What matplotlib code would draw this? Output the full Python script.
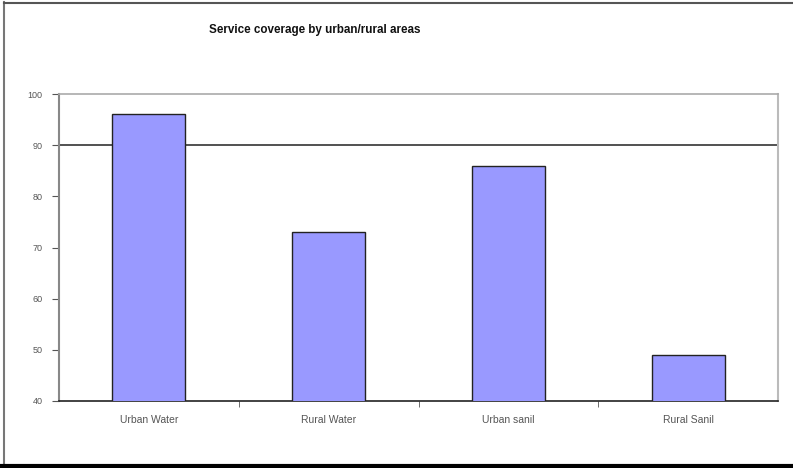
import matplotlib
matplotlib.use("Agg")
import matplotlib.pyplot as plt
from matplotlib.lines import Line2D

categories = ["Urban Water", "Rural Water", "Urban sanil", "Rural Sanil"]
coverage = [96, 73, 86, 49]
yticks = [40, 50, 60, 70, 80, 90, 100]
title = "Service coverage by urban/rural areas"

plt.rcParams['font.family'] = ['Liberation Sans', 'DejaVu Sans']

W, H = 793, 468
fig = plt.figure(figsize=(W / 100, H / 100), dpi=100)
ax = fig.add_axes([59 / W, 1 - 401 / H, (778 - 59) / W, (401 - 94) / H])

x = list(range(len(categories)))
ax.bar(x, coverage, width=0.405, color="#9999FF", edgecolor="#222222", linewidth=1.0, zorder=3)
ax.axhline(90, color="#333333", linewidth=1.2, zorder=2)

ax.set_xlim(-0.5, len(categories) - 0.5)
ax.set_ylim(40, 100)
ax.set_yticks(yticks)
ax.set_yticklabels([str(v) for v in yticks], fontsize=6.5, color="#555555")
ax.set_xticks(x)
ax.set_xticklabels(categories, fontsize=7.5, color="#555555")
ax.set_xticks([i + 0.5 for i in x[:-1]], minor=True)
ax.tick_params(axis='x', which='major', length=0, pad=10)
ax.tick_params(axis='x', which='minor', length=4, color="#555555", direction='out')
ax.tick_params(axis='y', length=5, color="#555555", direction='out', pad=7)

ax.spines['left'].set_color("#888888")
ax.spines['left'].set_linewidth(1.5)
ax.spines['bottom'].set_color("#222222")
ax.spines['bottom'].set_linewidth(1.2)
ax.spines['top'].set_color("#aaaaaa")
ax.spines['top'].set_linewidth(1.2)
ax.spines['right'].set_color("#bbbbbb")
ax.spines['right'].set_linewidth(1.5)

fig.text(315 / W, 1 - 30 / H, title, ha='center', va='center', fontsize=8.4, fontweight='bold', color="#111111")

# outer frame
fig.add_artist(Line2D([4 / W, 4 / W], [0, 1 - 2 / H], transform=fig.transFigure, color="#777777", linewidth=1.5))
fig.add_artist(Line2D([4 / W, 1], [1 - 2.5 / H, 1 - 2.5 / H], transform=fig.transFigure, color="#555555", linewidth=1.5))
fig.add_artist(Line2D([0, 1], [1 - 466 / H, 1 - 466 / H], transform=fig.transFigure, color="#000000", linewidth=3))

fig.savefig("out.png", dpi=100)
